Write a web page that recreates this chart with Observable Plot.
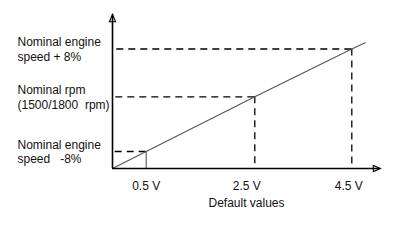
<!DOCTYPE html>
<html>
<head>
<meta charset="utf-8">
<script src="https://cdn.jsdelivr.net/npm/d3@7"></script>
<script src="https://cdn.jsdelivr.net/npm/@observablehq/plot@0.6"></script>
<style>
  html, body { margin: 0; padding: 0; background: #fff; }
  #chart svg { display: block; }
</style>
</head>
<body>
<div id="chart"></div>
<script>
// Speed-setting characteristic: control voltage vs. engine speed deviation
const voltage = [0, 0.5, 2.5, 4.5, 4.78];        // V, along the characteristic
const speedDeviation = [-10, -8, 0, 8, 9.1];     // %, along the characteristic
const markedVoltage = [0.5, 2.5, 4.5];
const markedSpeed = [-8, 0, 8];
const xTickLabels = ["0.5 V", "2.5 V", "4.5 V"];
const yTickLabels = [
  "Nominal engine\nspeed   -8%",
  "Nominal rpm\n(1500/1800  rpm)",
  "Nominal engine\nspeed + 8%"
];
const xExtent = [0, 5.1];
const yExtent = [-10, 14];
const xLabel = "Default values";

const [xMin, xMax] = xExtent;
const [yMin, yMax] = yExtent;

// Schematic (piecewise) axes: each marked value sits at its own drawn position
const xDomain = [xMin, ...markedVoltage, xMax];
const yDomain = [yMin, ...markedSpeed, yMax];
const xRange = [112, 145.7, 254.3, 351.3, 380];
const yRange = [168, 151, 96.3, 48.5, 14];

// Open arrowhead with its tip at the anchor point, pointing up
const arrowHead = {
  draw(context, size) {
    const r = Math.sqrt(size / Math.PI);
    context.moveTo(0, 0);
    context.lineTo(-0.85 * r, 2 * r);
    context.lineTo(0.85 * r, 2 * r);
    context.closePath();
  }
};

const font = "Liberation Sans, Arial, Helvetica, sans-serif";
const ink = "#111";
const idx = markedVoltage.map((_, i) => i);
const line = voltage.map((_, i) => i);
const labelNudge = [0, -8, -3];

const chart = Plot.plot({
  width: 414,
  height: 252,
  marginLeft: 112,
  marginRight: 34,
  marginTop: 14,
  marginBottom: 84,
  style: { fontFamily: font, fontSize: "12px", background: "#fff" },
  x: { type: "linear", domain: xDomain, range: xRange, axis: null },
  y: { type: "linear", domain: yDomain, range: yRange, axis: null },
  marks: [
    // guides from each marked point back to the axes
    Plot.ruleY(idx, {
      y: i => markedSpeed[i], x1: i => markedVoltage[i], x2: () => xMin,
      stroke: "#000", strokeWidth: 1.3, strokeDasharray: "7,5"
    }),
    Plot.ruleX(idx.filter(i => i > 0), {
      x: i => markedVoltage[i], y1: i => markedSpeed[i], y2: () => yMin,
      stroke: "#000", strokeWidth: 1.3, strokeDasharray: "7,5"
    }),
    Plot.ruleX([0], {
      x: i => markedVoltage[i], y1: i => markedSpeed[i], y2: () => yMin,
      stroke: "#666", strokeWidth: 1.2
    }),
    // characteristic
    Plot.line(line, {
      x: i => voltage[i], y: i => speedDeviation[i],
      stroke: "#555", strokeWidth: 1.1
    }),
    // axes with arrowheads
    Plot.ruleX([xMin], { x: d => d, y1: () => yMin, y2: () => yMax, stroke: "#000", strokeWidth: 1.6 }),
    Plot.ruleY([yMin], { y: d => d, x1: () => xMin, x2: () => xMax, stroke: "#000", strokeWidth: 1.6 }),
    Plot.dot([0], { x: () => xMin, y: () => yMax, symbol: arrowHead, r: 3.6, fill: "none", stroke: "#000", strokeWidth: 1.1 }),
    Plot.dot([0], { x: () => xMax, y: () => yMin, symbol: arrowHead, r: 3.6, rotate: 90, fill: "none", stroke: "#000", strokeWidth: 1.1 }),
    // y labels, left aligned beside the axis
    Plot.text(idx, {
      y: i => markedSpeed[i], text: i => yTickLabels[i],
      frameAnchor: "left", textAnchor: "start", lineAnchor: "middle",
      dx: -95, lineHeight: 1.2, fontSize: 12, fill: ink
    }),
    // x tick labels
    ...idx.map(i => Plot.text([markedVoltage[i]], {
      x: d => d, y: () => yMin, text: () => xTickLabels[i],
      lineAnchor: "middle", dy: 17.5, dx: labelNudge[i], fontSize: 12, fill: ink
    })),
    // x axis title
    Plot.text([xLabel], {
      text: d => d, frameAnchor: "bottom", lineAnchor: "middle",
      dy: 35, fontSize: 12, fill: ink
    })
  ]
});

document.getElementById("chart").append(chart);
</script>
</body>
</html>
